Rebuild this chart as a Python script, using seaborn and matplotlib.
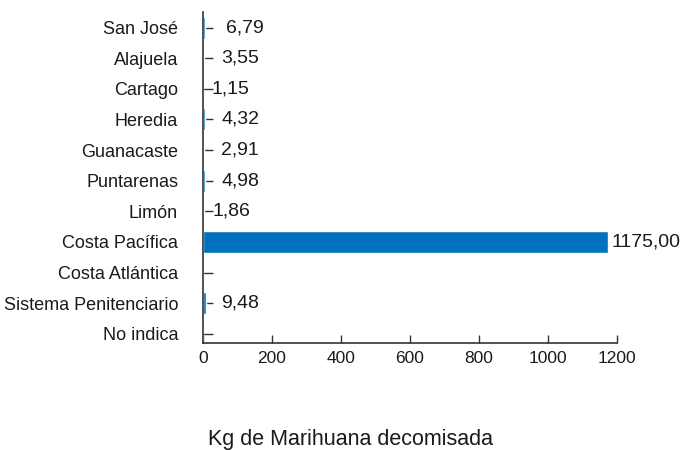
import matplotlib
matplotlib.use("Agg")
import matplotlib.pyplot as plt
import seaborn as sns
import pandas as pd

categories = ["San José", "Alajuela", "Cartago", "Heredia", "Guanacaste", "Puntarenas",
              "Limón", "Costa Pacífica", "Costa Atlántica", "Sistema Penitenciario", "No indica"]
values = [6.79, 3.55, 1.15, 4.32, 2.91, 4.98, 1.86, 1175.00, 0.0, 9.48, 0.0]
value_labels = ["6,79", "3,55", "1,15", "4,32", "2,91", "4,98", "1,86", "1175,00", "", "9,48", ""]
xticks = [0, 200, 400, 600, 800, 1000, 1200]
# label offsets in points (style only)
label_pads = [15, 12, 6, 12, 12, 12, 6, 2, 0, 11, 0]

sns.set_style("white")
plt.rcParams['font.family'] = ['Liberation Sans', 'DejaVu Sans']

df = pd.DataFrame({"cat": categories, "val": values})
fig = plt.figure(figsize=(6.82, 4.5), dpi=100)
ax = fig.add_axes([0.2977, 0.2378, 0.607, 0.735])
sns.barplot(data=df, y="cat", x="val", orient="h", color="#0070C0", width=0.72,
            saturation=1, ax=ax)
bars = ax.containers[0]
for patch, lab, pad in zip(bars.patches, value_labels, label_pads):
    if not lab:
        continue
    x = patch.get_x() + patch.get_width()
    y = patch.get_y() + patch.get_height() / 2
    ax.annotate(lab, (x, y), xytext=(pad, 0), textcoords="offset points",
                ha="left", va="center", fontsize=14, color="#1a1a1a",
                annotation_clip=False)

ax.set_xlim(0, 1200)
ax.set_ylim(10.3, -0.5)
ax.set_xticks(xticks)
ax.set_xticklabels([str(t) for t in xticks], fontsize=12.5, color="#1a1a1a")
ax.tick_params(axis="y", left=True, labelsize=13, direction="in", length=7, width=1,
               color="#333333", pad=18, labelcolor="#1a1a1a")
ax.tick_params(axis="x", bottom=True, direction="in", length=6, width=1,
               color="#333333", pad=6)
ax.set_ylabel("")
ax.set_xlabel("Kg de Marihuana decomisada", fontsize=15.5, color="#1a1a1a")
ax.xaxis.set_label_coords(0.357, -0.26)
for s in ["top", "right"]:
    ax.spines[s].set_visible(False)
for s in ["left", "bottom"]:
    ax.spines[s].set_color("#333333")
    ax.spines[s].set_linewidth(1.2)

fig.savefig("out.png", dpi=100)
